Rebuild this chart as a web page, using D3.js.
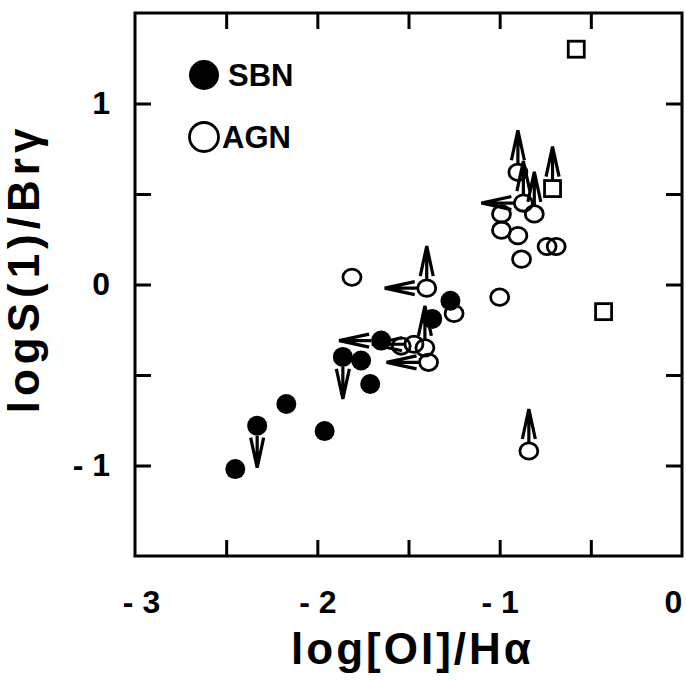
<!DOCTYPE html>
<html>
<head>
<meta charset="utf-8">
<script src="https://cdn.jsdelivr.net/npm/d3@7"></script>
<style>
  body { margin: 0; background: #fff; }
  text { font-family: "Liberation Sans", Arial, sans-serif; font-weight: bold; fill: #000; }
</style>
</head>
<body>
<div id="chart"></div>
<script>
const W = 686, H = 680;
const margin = { top: 13, right: 4, bottom: 124, left: 135 };
const width = W - margin.left - margin.right;
const height = H - margin.top - margin.bottom;

// limits: u = lower limit (arrow up), d = upper limit (arrow down), l = upper limit in x (arrow left)
const sbn = [
  { x: -2.45, y: -1.02, lim: '' },
  { x: -2.33, y: -0.78, lim: 'd' },
  { x: -2.17, y: -0.66, lim: '' },
  { x: -1.96, y: -0.81, lim: '' },
  { x: -1.86, y: -0.40, lim: 'd' },
  { x: -1.76, y: -0.42, lim: '' },
  { x: -1.71, y: -0.55, lim: '' },
  { x: -1.65, y: -0.31, lim: 'l' },
  { x: -1.37, y: -0.19, lim: '' },
  { x: -1.27, y: -0.09, lim: '' }
];

const agn = [
  { x: -1.81, y: 0.04, lim: '' },
  { x: -1.40, y: -0.02, lim: 'ul' },
  { x: -1.25, y: -0.16, lim: '' },
  { x: -1.54, y: -0.34, lim: '' },
  { x: -1.47, y: -0.33, lim: 'l' },
  { x: -1.41, y: -0.35, lim: 'u' },
  { x: -1.39, y: -0.43, lim: 'l' },
  { x: -1.00, y: -0.07, lim: '' },
  { x: -0.84, y: -0.92, lim: 'u' },
  { x: -0.90, y: 0.62, lim: 'u' },
  { x: -0.99, y: 0.39, lim: '' },
  { x: -0.99, y: 0.30, lim: '' },
  { x: -0.90, y: 0.27, lim: '' },
  { x: -0.81, y: 0.39, lim: 'u' },
  { x: -0.87, y: 0.45, lim: 'lu' },
  { x: -0.74, y: 0.21, lim: '' },
  { x: -0.69, y: 0.21, lim: '' },
  { x: -0.88, y: 0.14, lim: '' }
];

const squares = [
  { x: -0.58, y: 1.30, lim: '' },
  { x: -0.71, y: 0.53, lim: 'u' },
  { x: -0.43, y: -0.15, lim: '' }
];

const xTicks = [-3, -2.5, -2, -1.5, -1, -0.5, 0];
const yTicks = [-1.5, -1, -0.5, 0, 0.5, 1, 1.5];
const xLabels = [-3, -2, -1, 0];
const yLabels = [-1, 0, 1];

const svg = d3.select('#chart')
  .append('svg')
  .attr('width', W)
  .attr('height', H)
  .append('g')
  .attr('transform', `translate(${margin.left},${margin.top})`);

const x = d3.scaleLinear().domain([-3, 0]).range([0, width]);
const y = d3.scaleLinear().domain([-1.5, 1.5]).range([height, 0]);

const fmt = d => d < 0 ? '- ' + Math.abs(d) : String(d);
const inner = xTicks.filter(d => d > -3 && d < 0);
const innerY = yTicks.filter(d => d > -1.5 && d < 1.5);

// ticks pointing inwards on all four sides
const axes = [
  svg.append('g').attr('transform', `translate(0,${height})`)
    .call(d3.axisBottom(x).tickValues(inner).tickSize(-16).tickFormat('')),
  svg.append('g')
    .call(d3.axisTop(x).tickValues(inner).tickSize(-16).tickFormat('')),
  svg.append('g')
    .call(d3.axisLeft(y).tickValues(innerY).tickSize(-16).tickFormat('')),
  svg.append('g').attr('transform', `translate(${width},0)`)
    .call(d3.axisRight(y).tickValues(innerY).tickSize(-16).tickFormat(''))
];
axes.forEach(a => {
  a.select('.domain').remove();
  a.selectAll('line').attr('stroke', '#000').attr('stroke-width', 3);
});

// tick labels
svg.append('g').attr('transform', `translate(0,${height})`)
  .call(d3.axisBottom(x).tickValues(xLabels).tickSize(0).tickPadding(34).tickFormat(fmt))
  .call(g => g.select('.domain').remove())
  .selectAll('text')
  .style('font-size', '32px')
  .attr('dx', d => d === 0 ? -9 : (d === -3 ? 6 : 0));

svg.append('g')
  .call(d3.axisLeft(y).tickValues(yLabels).tickSize(0).tickPadding(25).tickFormat(fmt))
  .call(g => g.select('.domain').remove())
  .selectAll('text').style('font-size', '32px');

svg.append('rect')
  .attr('width', width).attr('height', height)
  .attr('fill', 'none').attr('stroke', '#000').attr('stroke-width', 3);

// axis titles
svg.append('text')
  .attr('x', x(-1.5) + 4).attr('y', height + 108)
  .attr('text-anchor', 'middle')
  .style('font-size', '44px').style('letter-spacing', '3px')
  .text('log[OI]/H\u03B1');

svg.append('text')
  .attr('transform', `translate(${-96},${y(0) - 16}) rotate(-90)`)
  .attr('text-anchor', 'middle')
  .style('font-size', '44px').style('letter-spacing', '5px')
  .text('logS(1)/Br\u03B3');

// limit arrows
const ARROW = 42;
const dirs = { u: [0, -1], d: [0, 1], l: [-1, 0] };
function arrowPath(d, r) {
  const cx = x(d.x), cy = y(d.y);
  return d.lim.split('').map(k => {
    const [ux, uy] = dirs[k];
    const sx = cx + ux * r, sy = cy + uy * r;
    const tx = cx + ux * ARROW, ty = cy + uy * ARROW;
    const bx = tx - ux * 30, by = ty - uy * 30;
    const px = -uy * 6.5, py = ux * 6.5;
    return `M${sx},${sy}L${tx},${ty}M${bx + px},${by + py}L${tx},${ty}L${bx - px},${by - py}`;
  }).join('');
}

const allPts = [
  ...sbn.map(d => ({ ...d, r: 10 })),
  ...agn.map(d => ({ ...d, r: 8.5 })),
  ...squares.map(d => ({ ...d, r: 8 }))
].filter(d => d.lim);

svg.selectAll('.arrow')
  .data(allPts)
  .join('path')
  .attr('class', 'arrow')
  .attr('d', d => arrowPath(d, d.r))
  .attr('fill', 'none')
  .attr('stroke', '#000')
  .attr('stroke-width', 3.2)
  .attr('stroke-linejoin', 'miter');

svg.selectAll('.agn')
  .data(agn)
  .join('ellipse')
  .attr('class', 'agn')
  .attr('cx', d => x(d.x))
  .attr('cy', d => y(d.y))
  .attr('rx', 9).attr('ry', 8.2)
  .attr('fill', 'none')
  .attr('stroke', '#000')
  .attr('stroke-width', 2.8);

svg.selectAll('.sq')
  .data(squares)
  .join('rect')
  .attr('class', 'sq')
  .attr('x', d => x(d.x) - 8)
  .attr('y', d => y(d.y) - 8)
  .attr('width', 16).attr('height', 16)
  .attr('fill', 'none')
  .attr('stroke', '#000')
  .attr('stroke-width', 2.8);

svg.selectAll('.sbn')
  .data(sbn)
  .join('circle')
  .attr('class', 'sbn')
  .attr('cx', d => x(d.x))
  .attr('cy', d => y(d.y))
  .attr('r', 10)
  .attr('fill', '#000');

// legend
const legend = svg.append('g').attr('transform', `translate(${204 - margin.left},${75 - margin.top})`);
legend.append('circle').attr('r', 15).attr('fill', '#000');
legend.append('text').attr('x', 24).attr('y', 11).style('font-size', '31px').text('SBN');
legend.append('circle').attr('cy', 62).attr('r', 14.5)
  .attr('fill', 'none').attr('stroke', '#000').attr('stroke-width', 2.8);
legend.append('text').attr('x', 18).attr('y', 73).style('font-size', '31px').text('AGN');
</script>
</body>
</html>
